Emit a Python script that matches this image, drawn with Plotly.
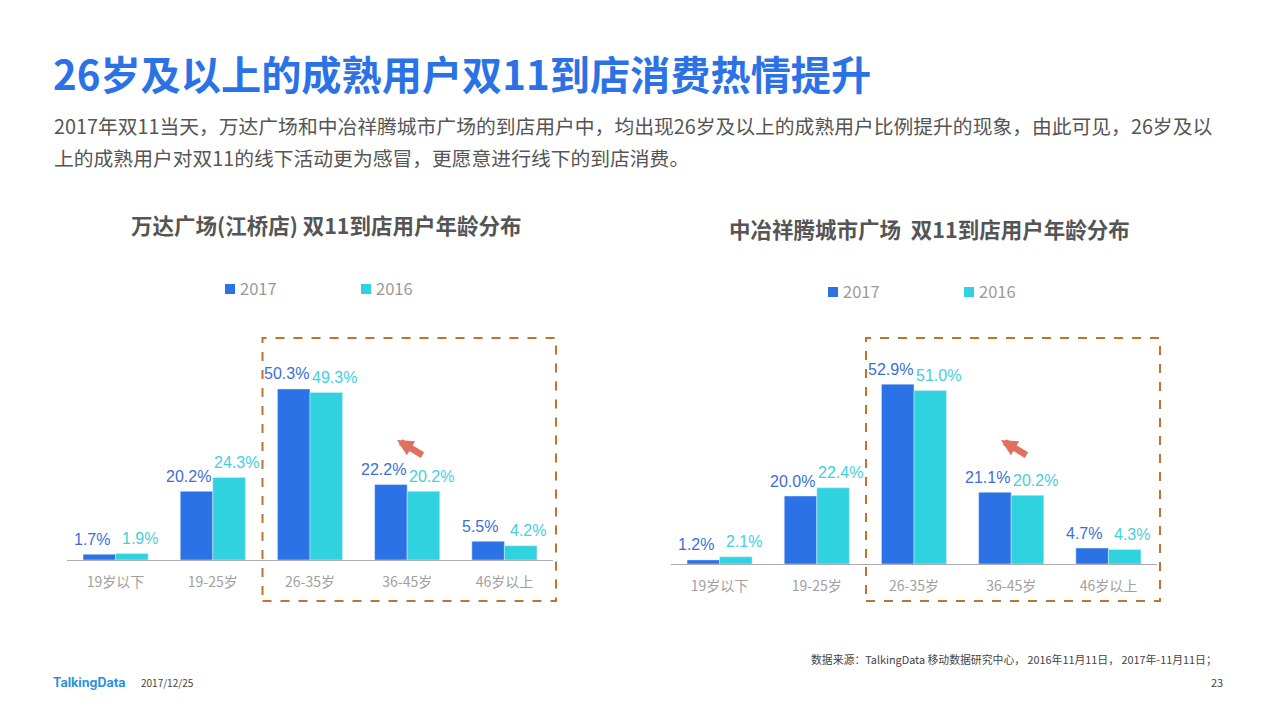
import plotly.graph_objects as go

W, H = 1275, 713

categories = ["19岁以下", "19-25岁", "26-35岁", "36-45岁", "46岁以上"]
left_2017 = [1.7, 20.2, 50.3, 22.2, 5.5]
left_2016 = [1.9, 24.3, 49.3, 20.2, 4.2]
right_2017 = [1.2, 20.0, 52.9, 21.1, 4.7]
right_2016 = [2.1, 22.4, 51.0, 20.2, 4.3]
series_names = ["2017", "2016"]

title = "26岁及以上的成熟用户双11到店消费热情提升"
para1 = "2017年双11当天，万达广场和中冶祥腾城市广场的到店用户中，均出现26岁及以上的成熟用户比例提升的现象，由此可见，26岁及以"
para2 = "上的成熟用户对双11的线下活动更为感冒，更愿意进行线下的到店消费。"
left_title = "万达广场(江桥店) 双11到店用户年龄分布"
right_title = "中冶祥腾城市广场  双11到店用户年龄分布"
source = "数据来源：TalkingData 移动数据研究中心， 2016年11月11日， 2017年-11月11日；"

BLUE, CYAN = "#2B72E6", "#2FD2DE"
LBL_BLUE, LBL_CYAN = "#3A6FD8", "#45CFDB"
CJK = "Noto Sans CJK SC"
YMAX = 60
PX_PER_UNIT = 3.4


def px(x):
    return x / W


def py(y):
    return 1 - y / H


fig = go.Figure()
panels = [
    ("x", "y", left_2017, left_2016),
    ("x2", "y2", right_2017, right_2016),
]
for xa, ya, v17, v16 in panels:
    fig.add_bar(x=categories, y=v17, name=series_names[0], marker_color=BLUE,
                xaxis=xa, yaxis=ya, showlegend=False)
    fig.add_bar(x=categories, y=v16, name=series_names[1], marker_color=CYAN,
                xaxis=xa, yaxis=ya, showlegend=False)


def axis(x0, x1, base):
    top = base - YMAX * PX_PER_UNIT
    xa = dict(domain=[px(x0), px(x1)], type="category", showgrid=False, zeroline=False,
              showline=True, linecolor="#ABABB0", linewidth=1, ticks="", ticklen=0,
              ticklabelstandoff=9,
              tickfont=dict(family=CJK, size=14, color="#A0A0A0"))
    ya = dict(domain=[py(base), py(top)], range=[0, YMAX], visible=False, showgrid=False)
    return xa, ya


xa1, ya1 = axis(67, 553, 560)
xa2, ya2 = axis(671, 1157, 564)
xa2["anchor"] = "y2"
ya2["anchor"] = "x2"

annotations = []


def text(x, y, s, size, color, anchor="left", bold=False, family=CJK):
    annotations.append(dict(xref="paper", yref="paper", x=px(x), y=py(y), text=f"<b>{s}</b>" if bold else s,
                            showarrow=False, xanchor=anchor, yanchor="middle", borderpad=0,
                            font=dict(family=family, size=size, color=color)))


text(52, 72.5, title, 40.2, "#2B72E6", bold=True)
text(53, 126, para1, 19.8, "#555555")
text(53, 157, para2, 19.8, "#555555")
text(326, 224.5, left_title, 21.5, "#555555", "center", True)
text(929, 228.5, right_title, 21.5, "#555555", "center", True)
text(1218, 659, source, 10.85, "#444444", "right")
text(52, 682, "<b>TalkingData</b>", 12.5, "#2B8FE0", family="Inter")
text(140, 682, "2017/12/25", 10, "#444444")
text(1224, 682, "23", 11, "#444444", "right")

# data labels, tied to the axes
for sfx, v17, v16 in [("", left_2017, left_2016), ("2", right_2017, right_2016)]:
    for i, cat in enumerate(categories):
        for val, sign, col in [(v17[i], -1, LBL_BLUE), (v16[i], 1, LBL_CYAN)]:
            annotations.append(dict(xref="x" + sfx, yref="y" + sfx, x=cat, y=val,
                                    text=f"{val:.1f}%", showarrow=False,
                                    xshift=sign * 24, yshift=15, xanchor="center", yanchor="middle",
                                    font=dict(family="Liberation Sans", size=16, color=col)))

# legends
shapes = []
for x17, x16, y in [(225, 361, 289), (828, 964, 292)]:
    for xm, name, col in [(x17, series_names[0], BLUE), (x16, series_names[1], CYAN)]:
        shapes.append(dict(type="rect", xref="paper", yref="paper", x0=px(xm), x1=px(xm + 10),
                           y0=py(y + 5), y1=py(y - 5), fillcolor=col, line_width=0))
        text(xm + 14, y - 1, name, 16.5, "#9A9A9A")

# dashed highlight boxes
for x0, x1, y0, y1 in [(262.5, 556, 338, 601), (866, 1160, 338, 601)]:
    shapes.append(dict(type="rect", xref="paper", yref="paper", x0=px(x0), x1=px(x1),
                       y0=py(y1), y1=py(y0), line=dict(color="#C0722F", width=2, dash="dash")))

# arrows
for tipx, tipy, tailx, taily in [(397, 440, 424, 456), (1001, 440, 1028, 456)]:
    annotations.append(dict(xref="paper", yref="paper", x=px(tipx), y=py(tipy), text="",
                            showarrow=True, axref="pixel", ayref="pixel",
                            ax=tailx - tipx, ay=taily - tipy, arrowhead=2, arrowsize=0.5,
                            arrowwidth=6.5, arrowcolor="#E0705F"))

fig.update_layout(width=W, height=H, autosize=False, margin=dict(l=0, r=0, t=0, b=0),
                  paper_bgcolor="white", plot_bgcolor="white", barmode="group",
                  bargap=0.33, bargroupgap=0, showlegend=False,
                  xaxis=xa1, yaxis=ya1, xaxis2=xa2, yaxis2=ya2,
                  annotations=annotations, shapes=shapes)

fig.write_html("out.html", post_script="document.body.style.margin='0';",
               config={"displayModeBar": False})
